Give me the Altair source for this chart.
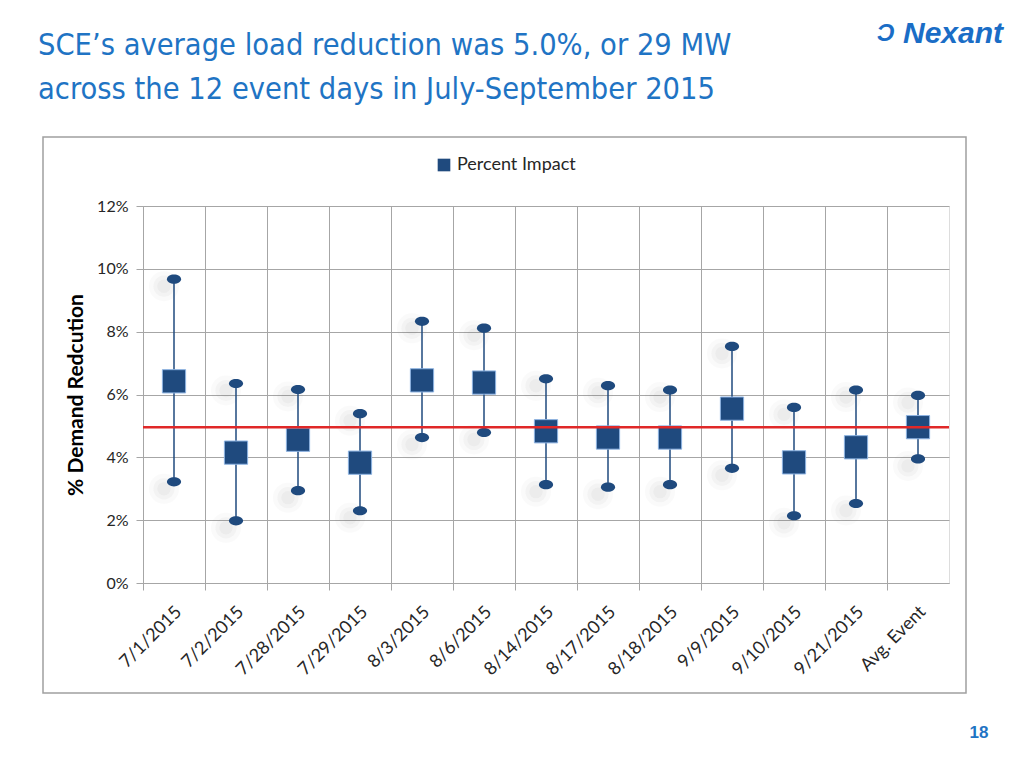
import altair as alt
import pandas as pd

# ---- data ----
categories = ["7/1/2015", "7/2/2015", "7/28/2015", "7/29/2015", "8/3/2015", "8/6/2015",
              "8/14/2015", "8/17/2015", "8/18/2015", "9/9/2015", "9/10/2015", "9/21/2015",
              "Avg. Event"]
impact = [6.42, 4.15, 4.56, 3.83, 6.45, 6.38, 4.83, 4.63, 4.63, 5.55, 3.84, 4.32, 4.96]
upper = [9.67, 6.35, 6.16, 5.39, 8.33, 8.11, 6.50, 6.28, 6.14, 7.53, 5.59, 6.14, 5.97]
lower = [3.22, 1.98, 2.94, 2.30, 4.63, 4.79, 3.13, 3.05, 3.13, 3.65, 2.14, 2.53, 3.95]
avg_line = [4.96]
y_ticks = [0, 2, 4, 6, 8, 10, 12]
series_name = "Percent Impact"
title_lines = ["SCE\u2019s average load reduction was 5.0%, or 29 MW",
               "across the 12 event days in July-September 2015"]

df = pd.DataFrame({"date": categories, "impact": impact, "upper": upper,
                   "lower": lower, "series": [series_name] * len(categories)})
avg_df = pd.DataFrame({"avg": avg_line})

NAVY = "#1F4A7E"
GRID = "#A6A6A6"
FONT = "Lato"
W, H = 806, 377

x_enc = alt.X("date:N", sort=categories, title=None,
              scale=alt.Scale(paddingInner=0, paddingOuter=0),
              axis=alt.Axis(bandPosition=0, grid=True, gridColor=GRID, domainColor=GRID,
                            tickColor=GRID, tickSize=7, labelAngle=-45, labelAlign="right",
                            labelBaseline="middle", labelOffset=5, labelPadding=19,
                            labelFont=FONT, labelFontSize=18, labelColor="#262626"))
y_scale = alt.Scale(domain=[0, 12], nice=False)
y_axis = alt.Axis(values=y_ticks, labelExpr="datum.value + '%'", grid=True, gridColor=GRID,
                  domainColor=GRID, tickColor=GRID, tickSize=7, labelPadding=8,
                  labelFont=FONT, labelFontSize=16, labelColor="#262626",
                  title="% Demand Redcution", titleFont=FONT, titleFontSize=21,
                  titleFontWeight="bold", titleColor="#000000", titlePadding=10)

base = alt.Chart(df).encode(x=x_enc)

ellipse = "M -1 0 A 1 0.65 0 1 1 1 0 A 1 0.65 0 1 1 -1 0 Z"

def shadow(field, size, op):
    return base.mark_circle(color="#7A7A7A", opacity=op, size=size, xOffset=-10, yOffset=7).encode(
        y=alt.Y(field, scale=y_scale, axis=y_axis))

shadows = [shadow("upper:Q", 900, 0.04), shadow("upper:Q", 450, 0.05), shadow("upper:Q", 180, 0.05),
           shadow("lower:Q", 900, 0.04), shadow("lower:Q", 450, 0.05), shadow("lower:Q", 180, 0.05)]

bars = base.mark_rule(color=NAVY, strokeWidth=1.5).encode(
    y=alt.Y("lower:Q", scale=y_scale, axis=y_axis), y2="upper:Q")
cap_u = base.mark_point(shape=ellipse, filled=True, size=200, color=NAVY, opacity=1).encode(
    y=alt.Y("upper:Q", scale=y_scale, axis=y_axis))
cap_l = base.mark_point(shape=ellipse, filled=True, size=200, color=NAVY, opacity=1).encode(
    y=alt.Y("lower:Q", scale=y_scale, axis=y_axis))
squares = base.mark_square(size=540, opacity=1, stroke="#8DB3E2", strokeWidth=1).encode(
    y=alt.Y("impact:Q", scale=y_scale, axis=y_axis),
    color=alt.Color("series:N", scale=alt.Scale(range=[NAVY]),
                    legend=alt.Legend(title=None, orient="none", legendX=292, legendY=-50,
                                      symbolType="square", symbolSize=160,
                                      symbolStrokeWidth=0,
                                      labelFont=FONT, labelFontSize=18,
                                      labelColor="#262626")))

red = alt.Chart(avg_df).mark_rule(color="#E02828", strokeWidth=2.5).encode(
    y=alt.Y("avg:Q", scale=y_scale))

# slide decorations
frame = alt.Chart(avg_df).mark_rect(fill=None, stroke="#A0A0A0", strokeWidth=1.5).encode(
    x=alt.value(-100), x2=alt.value(823), y=alt.value(-69), y2=alt.value(487))
logo = alt.Chart(avg_df).mark_text(text="Nexant", font="Liberation Sans", fontSize=30,
                                   fontWeight="bold", fontStyle="italic", color="#1A6DC6",
                                   align="left", baseline="middle").encode(
    x=alt.value(760), y=alt.value(-172))
logo_sym = alt.Chart(avg_df).mark_text(text="\u0186", font="Liberation Sans", fontSize=24,
                                       fontWeight="bold", fontStyle="italic", color="#1A6DC6",
                                       align="left", baseline="middle").encode(
    x=alt.value(734), y=alt.value(-172))
page_no = alt.Chart(avg_df).mark_text(text="18", font="Liberation Sans", fontSize=17,
                                      fontWeight="bold", color="#1F74C4",
                                      align="center", baseline="middle").encode(
    x=alt.value(836), y=alt.value(527))
title_txt = alt.Chart(avg_df).mark_text(text=title_lines, font="Liberation Sans Narrow, DejaVu Sans Condensed, Liberation Sans",
                                        fontSize=30.5, lineHeight=44, color="#1F74C4",
                                        align="left", baseline="alphabetic").encode(
    x=alt.value(-105), y=alt.value(-151))

chart = alt.layer(frame, *shadows, bars, cap_u, cap_l,
                  squares, red, logo, logo_sym, page_no, title_txt).properties(
    width=W, height=H,
    autosize=alt.AutoSizeParams(type="none"),
    padding={"left": 135, "top": 198, "right": 60, "bottom": 160},
).configure_view(stroke=GRID).configure(background="white")

chart.save("out.html", embed_options={"renderer": "svg", "actions": False})
